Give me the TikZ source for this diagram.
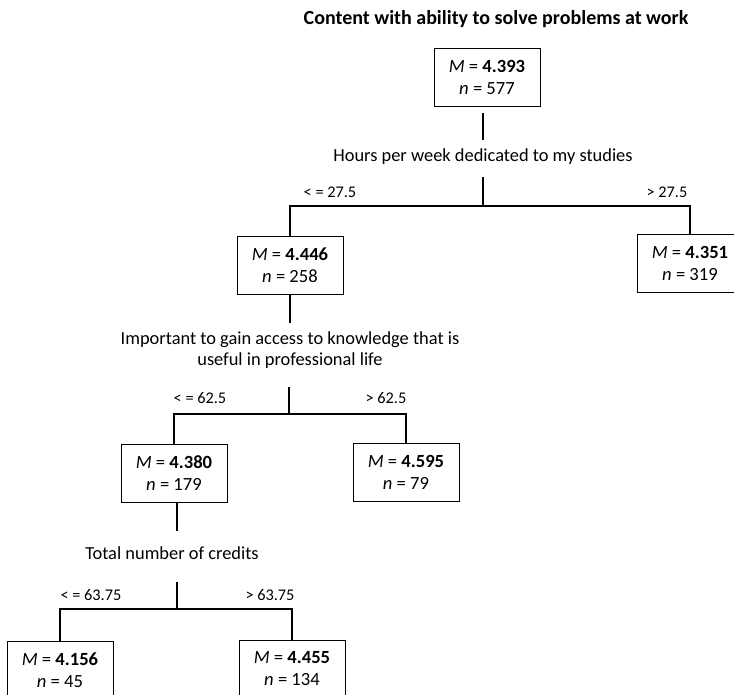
\documentclass[tikz,border=0pt]{standalone}
\usepackage{fontspec}
\setmainfont{Carlito}
\newcommand{\stat}[2]{\textit{M} = \textbf{#1}\\\textit{n} = #2}
\begin{document}
\begin{tikzpicture}[x=1pt,y=-1pt,
    statbox/.style={draw, line width=0.8pt, minimum width=106pt, minimum height=58pt,
        align=center, font=\fontsize{18.6}{22}\selectfont},
    question/.style={align=center, inner sep=0pt, font=\fontsize{18.4}{21}\selectfont},
    cutlabel/.style={inner sep=0pt, font=\fontsize{16.3}{19}\selectfont},
    branch/.style={line width=1.2pt}]
    \useasboundingbox (0,0) rectangle (734,694);
    \clip (0,0) rectangle (734,694);

    % Title
    \node[font=\bfseries\fontsize{20}{24}\selectfont] (title) at (496,19)
        {Content with ability to solve problems at work};

    % Root node and first split
    \node[statbox] (root) at (487,77) {\stat{4.393}{577}};
    \node[question] (q1) at (483,157) {Hours per week dedicated to my studies};
    \coordinate (s1) at (483,206);
    \draw[branch] (483,113) -- (483,140);
    \draw[branch] (483,177) -- (s1);
    \node[statbox] (n1) at (290,265) {\stat{4.446}{258}};
    \node[statbox] (n2) at (690,263) {\stat{4.351}{319}};
    \draw[branch] (n1.north) |- (s1) -| (n2.north);
    \node[cutlabel] at (330,192) {< = 27.5};
    \node[cutlabel] at (667,192) {> 27.5};

    % Second split
    \node[question] (q2) at (290,350)
        {Important to gain access to knowledge that is\\useful in professional life};
    \coordinate (s2) at (289,414);
    \draw[branch] (n1.south) -- (290,323);
    \draw[branch] (289,387) -- (s2);
    \node[statbox] (n3) at (174,473) {\stat{4.380}{179}};
    \node[statbox] (n4) at (406,472) {\stat{4.595}{79}};
    \draw[branch] (n3.north) |- (s2) -| (n4.north);
    \node[cutlabel] at (200,398) {< = 62.5};
    \node[cutlabel] at (386,398) {> 62.5};

    % Third split
    \node[question] (q3) at (172,553) {Total number of credits};
    \coordinate (s3) at (177,609);
    \draw[branch] (n3.south -| s3) -- (177,531);
    \draw[branch] (177,582) -- (s3);
    \node[statbox] (n5) at (60,670) {\stat{4.156}{45}};
    \node[statbox] (n6) at (292,669) {\stat{4.455}{134}};
    \draw[branch] (n5.north) |- (s3) -| (n6.north);
    \node[cutlabel] at (91,595) {< = 63.75};
    \node[cutlabel] at (270,595) {> 63.75};
\end{tikzpicture}
\end{document}
